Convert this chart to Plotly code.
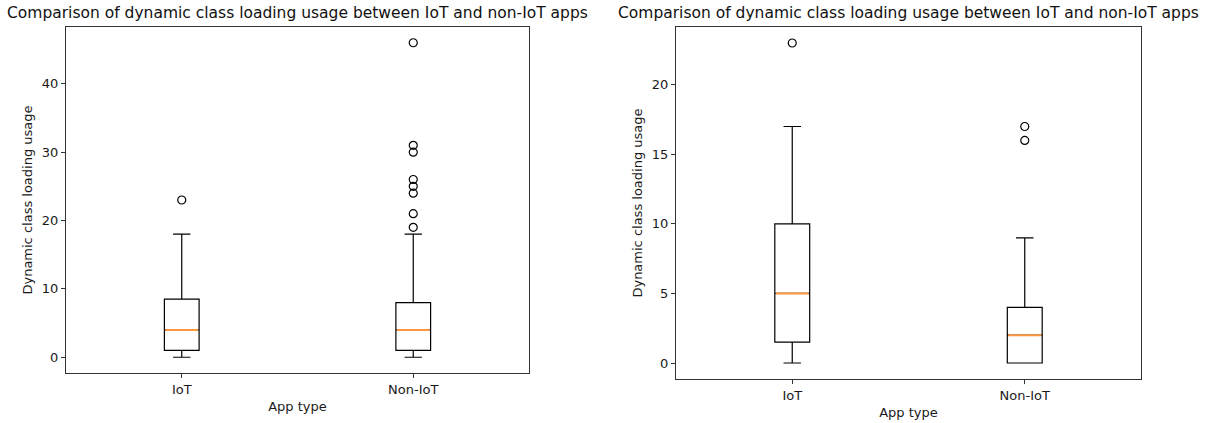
import plotly.graph_objects as go

# ---------------- data ----------------
categories = ["IoT", "Non-IoT"]
positions = [1, 2]

# left panel statistics
left_q1 = [1, 1]
left_median = [4, 4]
left_q3 = [8.5, 8]
left_low = [0, 0]
left_high = [18, 18]
left_outliers = [[23], [19, 21, 24, 25, 26, 30, 31, 46]]

# right panel statistics
right_q1 = [1.5, 0]
right_median = [5, 2]
right_q3 = [10, 4]
right_low = [0, 0]
right_high = [17, 9]
right_outliers = [[23], [16, 17]]

title_text = "Comparison of dynamic class loading usage between IoT and non-IoT apps"
y_label = "Dynamic class loading usage"
x_label = "App type"
left_ticks = [0, 10, 20, 30, 40]
right_ticks = [0, 5, 10, 15, 20]

BOX_W = 0.15
W, H = 1207, 423
FONT = "DejaVu Sans"

fig = go.Figure()

panels = [
    dict(q1=left_q1, med=left_median, q3=left_q3, lo=left_low, hi=left_high,
         out=left_outliers, xa="x", ya="y", ticks=left_ticks),
    dict(q1=right_q1, med=right_median, q3=right_q3, lo=right_low, hi=right_high,
         out=right_outliers, xa="x2", ya="y2", ticks=right_ticks),
]

for p in panels:
    for i, pos in enumerate(positions):
        fig.add_trace(go.Box(
            x=[pos], q1=[p["q1"][i]], median=[p["med"][i]], q3=[p["q3"][i]],
            lowerfence=[p["lo"][i]], upperfence=[p["hi"][i]],
            width=BOX_W, whiskerwidth=0.5, boxpoints=False,
            fillcolor="rgba(0,0,0,0)", line=dict(color="black", width=1.2),
            xaxis=p["xa"], yaxis=p["ya"], showlegend=False, hoverinfo="skip",
        ))
        # orange median line
        fig.add_trace(go.Scatter(
            x=[pos - BOX_W / 2 + 0.004, pos + BOX_W / 2 - 0.004], y=[p["med"][i], p["med"][i]],
            mode="lines", line=dict(color="#ff9640", width=2.0),
            xaxis=p["xa"], yaxis=p["ya"], showlegend=False, hoverinfo="skip",
        ))
        # outliers
        fig.add_trace(go.Scatter(
            x=[pos] * len(p["out"][i]), y=p["out"][i], mode="markers",
            marker=dict(symbol="circle-open", size=8, color="black",
                        line=dict(color="black", width=1.2)),
            xaxis=p["xa"], yaxis=p["ya"], showlegend=False, hoverinfo="skip",
        ))

def yrange(p):
    vals = p["lo"] + [max(o) for o in p["out"]]
    lo, hi = min(vals), max(vals)
    m = (hi - lo) * 0.05
    return [lo - m, hi + m]

axis_common = dict(showline=True, linecolor="#333333", linewidth=1.2, mirror=True,
                   ticks="outside", ticklen=4, tickcolor="#333333",
                   showgrid=False, zeroline=False, automargin=False,
                   tickfont=dict(family=FONT, size=13, color="#1a1a1a"),
                   title_font=dict(family=FONT, size=13, color="#1a1a1a"))

fig.update_layout(
    width=W, height=H, margin=dict(l=0, r=0, t=0, b=0),
    plot_bgcolor="white", paper_bgcolor="white",
    font=dict(family=FONT, color="#1a1a1a"),
    xaxis=dict(domain=[66 / W, 529 / W], range=[0.5, 2.5], tickvals=positions,
               ticktext=categories, title=dict(text=x_label, standoff=6), anchor="y",
               **axis_common),
    yaxis=dict(domain=[1 - 373 / H, 1 - 27 / H], range=yrange(panels[0]),
               tickvals=left_ticks, title=dict(text=y_label, standoff=6), anchor="x",
               **axis_common),
    xaxis2=dict(domain=[676 / W, 1141 / W], range=[0.5, 2.5], tickvals=positions,
                ticktext=categories, title=dict(text=x_label, standoff=6), anchor="y2",
                **axis_common),
    yaxis2=dict(domain=[1 - 379 / H, 1 - 27 / H], range=yrange(panels[1]),
                tickvals=right_ticks, title=dict(text=y_label, standoff=6), anchor="x2",
                **axis_common),
    annotations=[
        dict(text=title_text, x=(66 + 529) / 2 / W, y=1 - 13 / H, xref="paper",
             yref="paper", showarrow=False, xanchor="center", yanchor="middle",
             font=dict(family=FONT, size=15.5, color="#111111")),
        dict(text=title_text, x=(676 + 1141) / 2 / W, y=1 - 13 / H, xref="paper",
             yref="paper", showarrow=False, xanchor="center", yanchor="middle",
             font=dict(family=FONT, size=15.5, color="#111111")),
    ],
)

fig.write_html("out.html", config={"displayModeBar": False},
               post_script="document.body.style.margin='0';document.body.style.padding='0';")
